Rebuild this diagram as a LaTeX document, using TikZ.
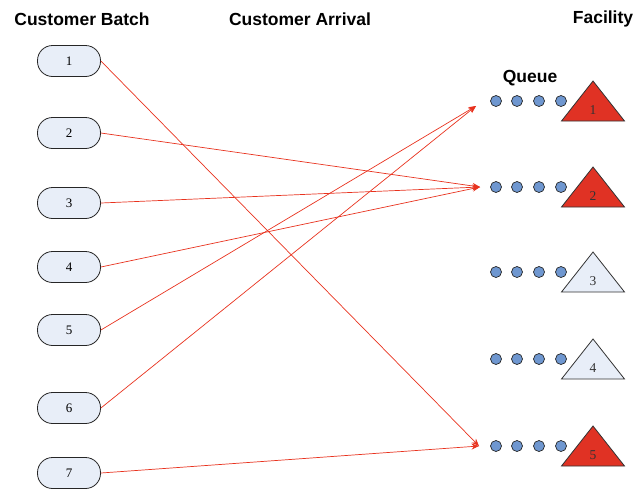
\documentclass[tikz,border=0pt]{standalone}
\usepackage{fontspec}
\setmainfont{Liberation Serif}
\newfontfamily\headfont{Liberation Sans}
\usetikzlibrary{arrows.meta}
\definecolor{boxfill}{HTML}{E8EEF8}
\definecolor{dotfill}{HTML}{6F97D0}
\definecolor{busyred}{HTML}{E03224}
\definecolor{linkred}{HTML}{E8321E}
\tikzset{
  batch/.style={draw=black!85, line width=0.8pt, fill=boxfill, rounded corners=15pt,
    minimum width=63pt, minimum height=31pt, inner sep=0pt,
    font=\fontsize{13}{15}\selectfont},
  head/.style={font=\headfont\bfseries\fontsize{17.5}{20}\selectfont, inner sep=0pt},
  qdot/.style={draw=black!85, line width=0.7pt, fill=dotfill, circle, minimum size=11pt, inner sep=0pt},
  link/.style={draw=linkred, line width=0.7pt, -{Stealth[length=7.5pt,width=6pt]}},
  facility/.style={draw=black!80, line width=0.8pt, line join=miter},
  faclabel/.style={font=\fontsize{13.5}{15}\selectfont, text=black!80, inner sep=0pt}
}
\begin{document}
\begin{tikzpicture}[x=1pt,y=-1pt]
\useasboundingbox (0,0) rectangle (644,491);

% column headings
\node[head] (hbatch) at (82,19) {Customer Batch};
\node[head] (harrival) at (300,19) {Customer Arrival};
\node[head] (hfac) at (603,19) {Facility};
\node[head] (hqueue) at (530,78) {Queue};

% customer batches
\foreach \i/\y in {1/61,2/133,3/203,4/267,5/330,6/408,7/473}
  \node[batch] (b\i) at (69,\y) {\i};

% queues and facilities
\foreach \k/\y/\f in {1/101/busyred,2/187/busyred,3/272/boxfill,4/359/boxfill,5/446/busyred}{
  \foreach \j/\x in {1/496,2/517,3/539,4/561}
    \node[qdot] (d\k\j) at (\x,\y) {};
  \coordinate (apex\k) at (593,\y-20);
  \coordinate (bl\k) at (561.5,\y+20);
  \coordinate (br\k) at (624.5,\y+20);
  \filldraw[facility, fill=\f] (apex\k) -- (br\k) -- (bl\k) -- cycle;
  \node[faclabel] (f\k) at (593,\y+9) {\k};
}

% arrival points in front of the queues
\coordinate (q1) at (476,106);
\coordinate (q2) at (480,187);
\coordinate (q5) at (479,446);

% arrivals
\draw[link] (b1.east) -- (q5);
\draw[link] (b2.east) -- (q2);
\draw[link] (b3.east) -- (q2);
\draw[link] (b4.east) -- (q2);
\draw[link] (b5.east) -- (q1);
\draw[link] (b6.east) -- (q1);
\draw[link] (b7.east) -- (q5);
\end{tikzpicture}
\end{document}
